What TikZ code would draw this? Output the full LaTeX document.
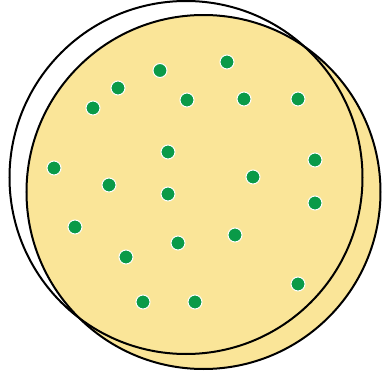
\documentclass[tikz,border=0pt]{standalone}
\definecolor{plate}{RGB}{250,229,152}
\definecolor{colony}{RGB}{10,154,72}
\begin{document}
\begin{tikzpicture}[x=1pt,y=-1pt,
  rim/.style={draw=black,line width=2pt},
  dot/.style={circle,fill=colony,draw=white,line width=1pt,minimum size=14pt,inner sep=0pt}]
\useasboundingbox[fill=white] (0,0) rectangle (384,375);
\fill[plate] (203.5,192) circle[radius=177];
\draw[rim] (203.5,192) circle[radius=177];
\draw[rim] (186,177.5) circle[radius=176.5];
\foreach \x/\y [count=\i] in {160/70.5,227/62,118/88,93/108,187/100,244/99,298/99,168/152,54/168,315/160,109/185,253/177,168/194,315/203,75/227,178/243,235/235,126/257,298/284,143/302,195/302}
  \node[dot] (c\i) at (\x,\y) {};
\end{tikzpicture}
\end{document}
